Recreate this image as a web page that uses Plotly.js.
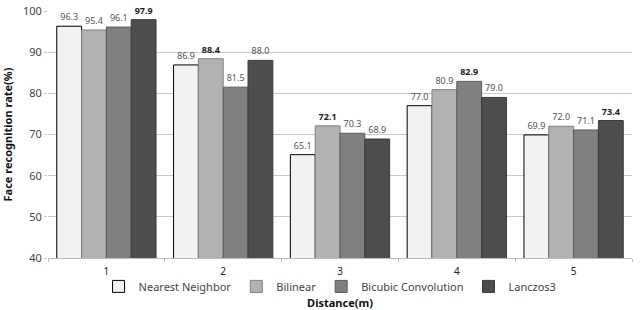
<!DOCTYPE html>
<html><head><meta charset="utf-8">
<script src="https://cdn.plot.ly/plotly-3.0.1.min.js"></script>
<style>body{margin:0;background:#fff}#chart{width:641px;height:310px}</style>
</head><body><div id="chart"></div>
<script>
const categories = ['1', '2', '3', '4', '5'];
const nearestNeighbor = [96.3, 86.9, 65.1, 77.0, 69.9];
const bilinear = [95.4, 88.4, 72.1, 80.9, 72.0];
const bicubic = [96.1, 81.5, 70.3, 82.9, 71.1];
const lanczos3 = [97.9, 88.0, 68.9, 79.0, 73.4];
const seriesNames = ['Nearest Neighbor', 'Bilinear', 'Bicubic Convolution', 'Lanczos3'];
const seriesValues = [nearestNeighbor, bilinear, bicubic, lanczos3];
const fills = ['#f2f2f2', '#b2b2b2', '#808080', '#4d4d4d'];
const lines = ['#000000', '#7f7f7f', '#595959', '#3a3a3a'];

const maxPerCat = categories.map((c, i) => Math.max(...seriesValues.map(s => s[i])));
const FONT = 'Noto Sans, DejaVu Sans, sans-serif';

const traces = seriesValues.map((vals, k) => ({
  type: 'bar',
  name: seriesNames[k],
  x: categories,
  y: vals,
  text: vals.map((v, i) => v === maxPerCat[i] ? '<b>' + v.toFixed(1) + '</b>' : v.toFixed(1)),
  textposition: 'outside',
  textfont: {family: FONT, size: 9, color: vals.map((v, i) => v === maxPerCat[i] ? '#222' : '#555')},
  cliponaxis: false,
  marker: {color: fills[k], line: {color: lines[k], width: 1}},
  hoverinfo: 'none'
}));

const layout = {
  width: 641, height: 310,
  margin: {l: 48, r: 9, t: 11, b: 49},
  paper_bgcolor: '#fff', plot_bgcolor: '#fff',
  font: {family: FONT, size: 11, color: '#444'},
  barmode: 'group',
  bargap: 0.15,
  bargroupgap: 0,
  showlegend: true,
  legend: {orientation: 'h', x: 0.483, xanchor: 'center', y: -0.115, yanchor: 'middle',
           font: {family: FONT, size: 11, color: '#444'}, traceorder: 'normal', itemwidth: 30, bgcolor: 'rgba(0,0,0,0)'},
  xaxis: {
    type: 'category',
    tickson: 'boundaries',
    ticks: 'outside', ticklen: 3, tickcolor: '#bbb',
    showline: true, linecolor: '#bbb', linewidth: 1,
    showgrid: false,
    ticklabelstandoff: 4,
    tickfont: {family: FONT, size: 10, color: '#222'},
    title: {text: 'Distance(m)', font: {family: FONT, size: 11, color: '#111', weight: 'bold'}, standoff: 24},
    automargin: false
  },
  yaxis: {
    range: [40, 100],
    dtick: 10,
    showgrid: true, gridcolor: '#c8c8c8', gridwidth: 1,
    zeroline: false, showline: false,
    ticks: 'outside', ticklen: 3, tickcolor: '#c8c8c8',
    tickfont: {family: FONT, size: 11, color: '#444'},
    title: {text: 'Face recognition rate(%)', font: {family: FONT, size: 11, color: '#111', weight: 'bold'}, standoff: 10},
    automargin: false
  }
};

Plotly.newPlot('chart', traces, layout, {staticPlot: true, displayModeBar: false});
</script></body></html>
